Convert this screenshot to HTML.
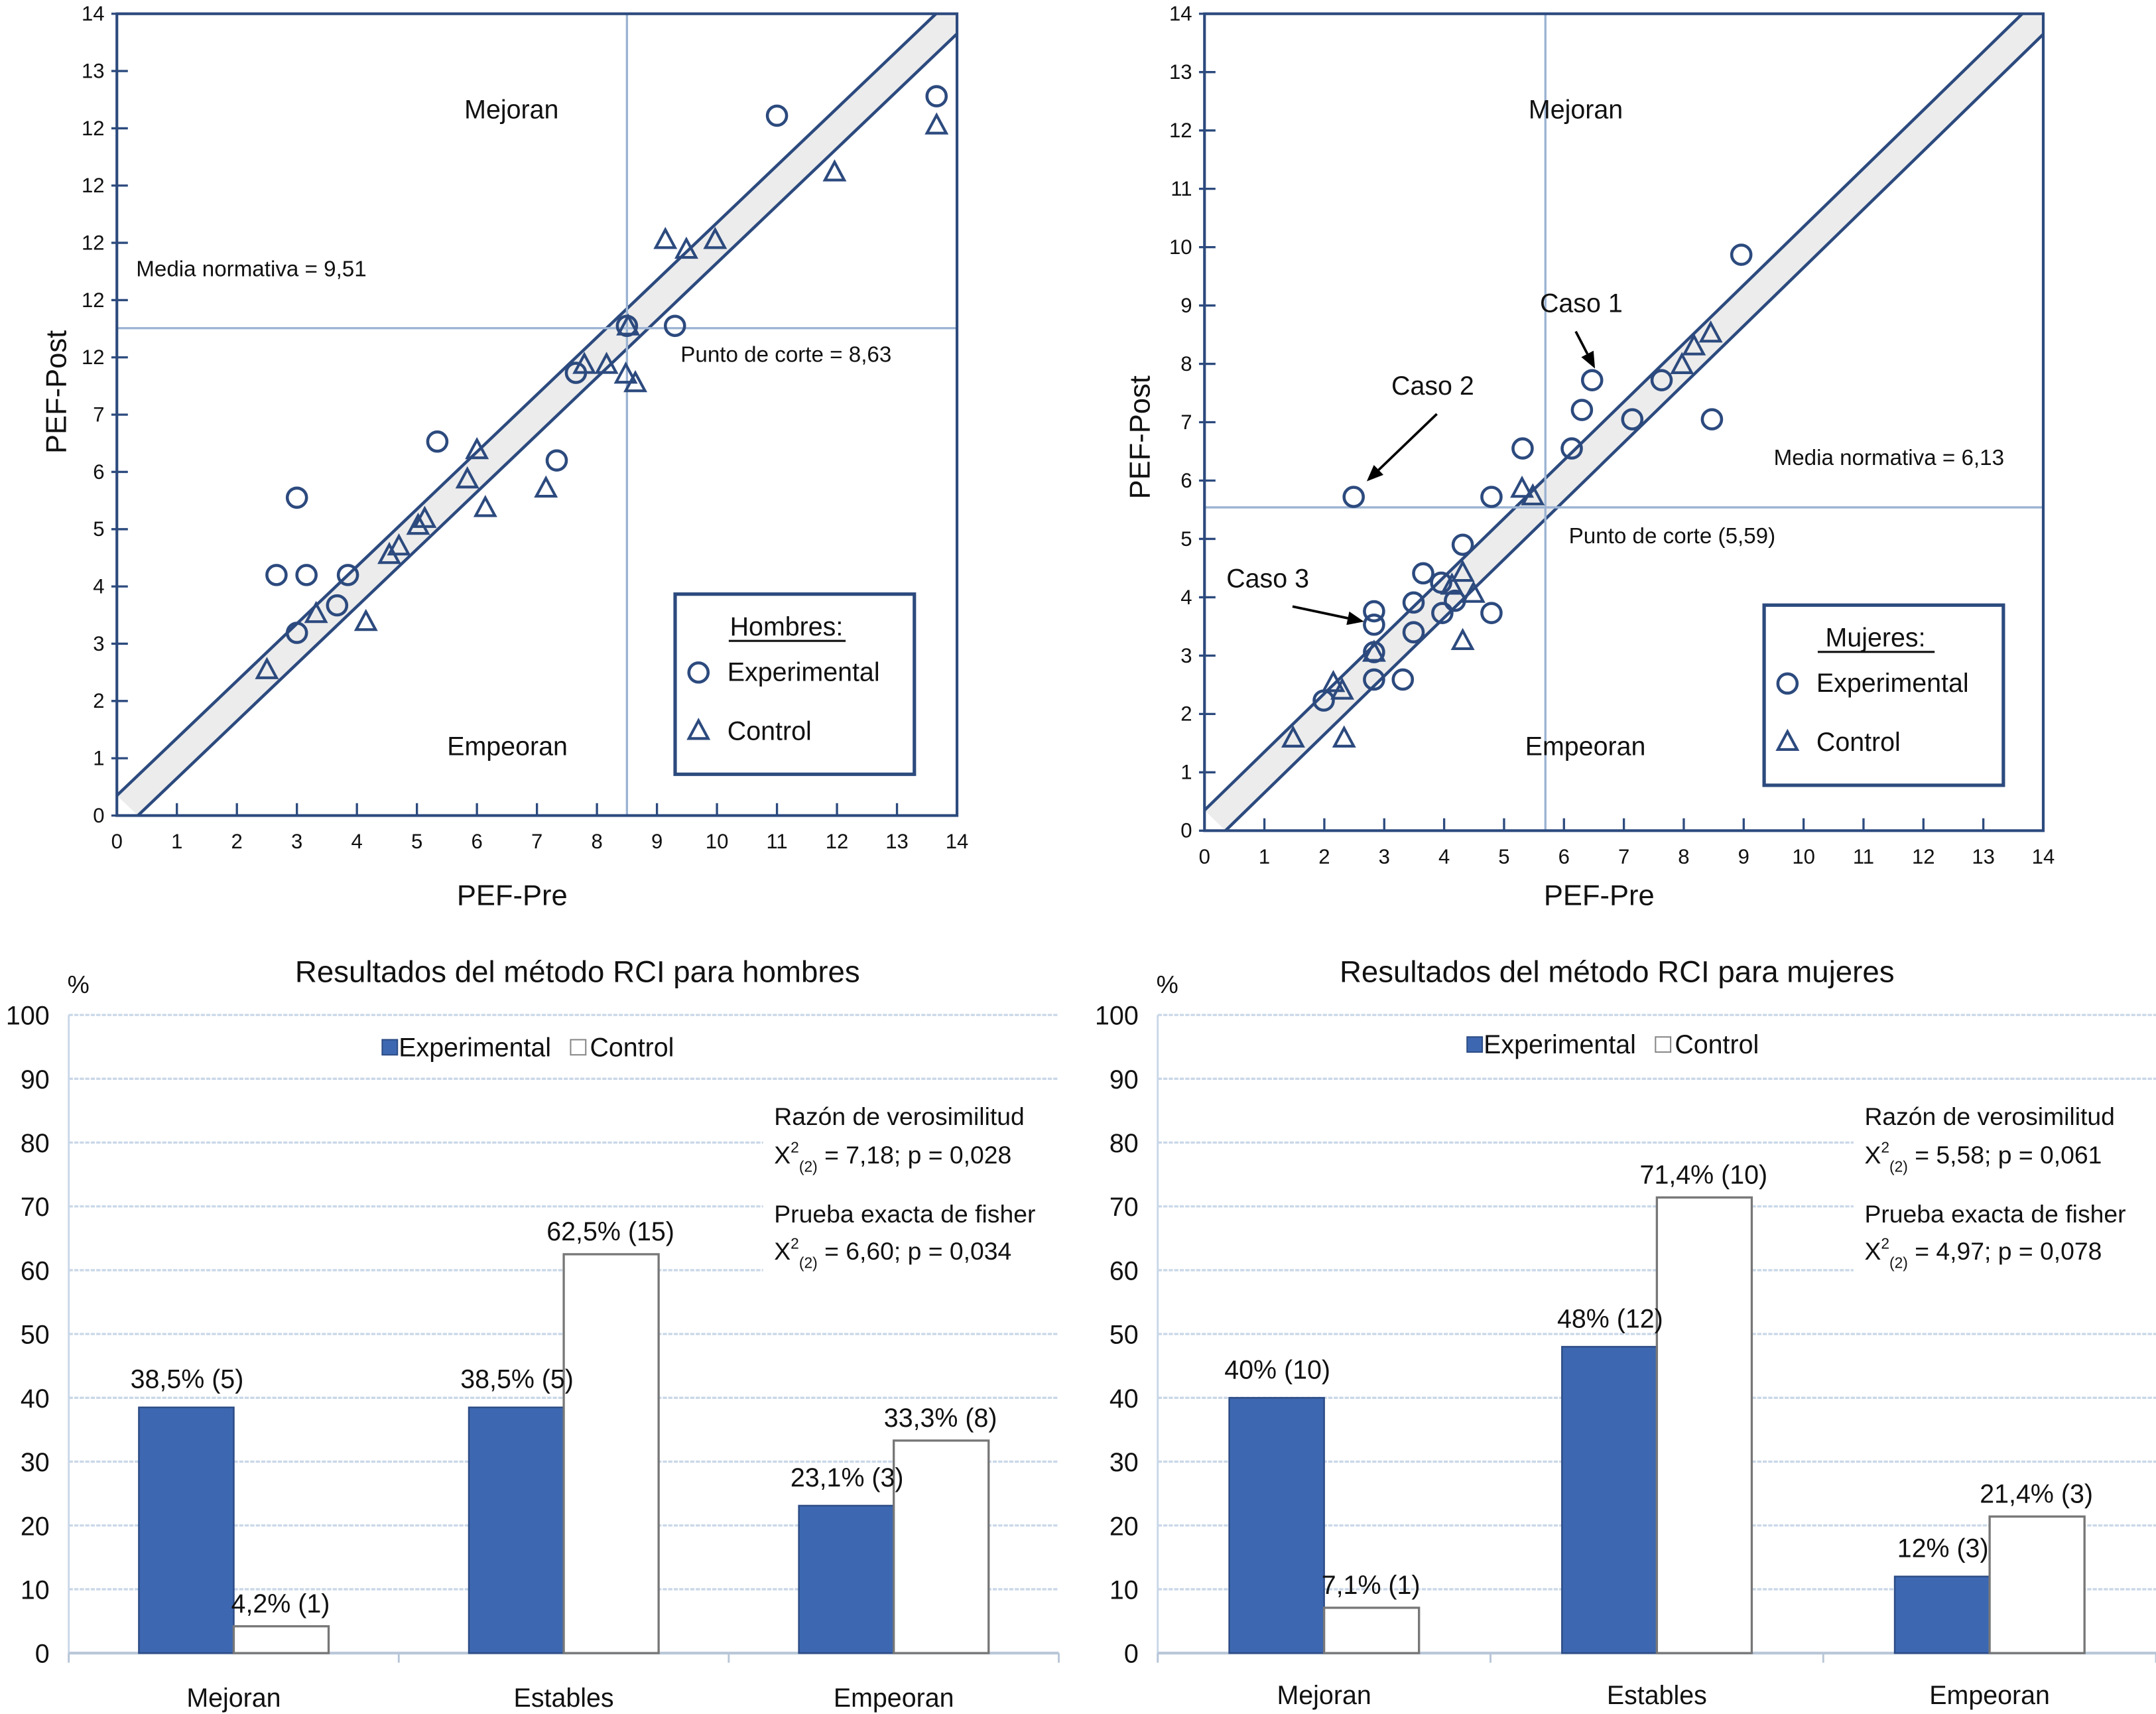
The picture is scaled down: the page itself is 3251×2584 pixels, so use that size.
<!DOCTYPE html>
<html><head><meta charset="utf-8"><style>
html,body{margin:0;padding:0;background:#fff}
svg{display:block}
text{font-family:"Liberation Sans",Arial,sans-serif;fill:#111}
</style></head><body>
<svg id="root" xmlns="http://www.w3.org/2000/svg" width="3251" height="2584" viewBox="0 0 1568 1246.3">
<rect width="1568" height="1246.3" fill="#fff"/>
</svg>
<script>
// ---------- DATA ----------
const menExpX=[2.66,3.0,3.16,3.0,3.67,3.85,5.34,7.33,7.65,8.5,9.3,11.0,13.66];
const menExpY=[4.2,5.55,4.2,3.19,3.67,4.2,6.53,6.2,7.73,8.55,8.55,12.22,12.56];
const menCtlX=[2.5,3.32,4.15,4.54,4.7,5.02,5.13,5.84,6.0,6.14,7.15,7.79,8.16,8.48,8.64,8.52,9.14,9.49,9.97,11.96,13.66];
const menCtlY=[2.55,3.53,3.39,4.56,4.71,5.07,5.19,5.88,6.39,5.38,5.72,7.88,7.88,7.71,7.56,8.55,10.06,9.89,10.06,11.24,12.06];
const womExpX=[2.49,4.79,5.31,6.13,6.3,6.47,7.14,7.63,8.47,8.96,4.31,3.65,3.49,3.97,4.18,3.95,4.79,2.83,2.83,3.49,2.83,3.31,1.99,2.83];
const womExpY=[5.72,5.72,6.55,6.55,7.21,7.72,7.05,7.72,7.05,9.87,4.9,4.41,3.91,3.73,3.94,4.25,3.73,3.76,3.53,3.4,2.59,2.59,2.23,3.06];
const womCtlX=[5.3,5.48,7.97,8.17,8.45,4.31,4.13,4.49,4.31,2.83,2.15,2.3,1.48,2.33];
const womCtlY=[5.87,5.74,7.99,8.31,8.53,4.43,4.21,4.07,3.26,3.06,2.54,2.41,1.59,1.59];
const menYTickLabels=["0","1","2","3","4","5","6","7","12","12","12","12","12","13","14"];
const womYTickLabels=["0","1","2","3","4","5","6","7","8","9","10","11","12","13","14"];
const categories=["Mejoran","Estables","Empeoran"];
const menBarExp=[38.5,38.5,23.1];
const menBarCtl=[4.2,62.5,33.3];
const menLblExp=["38,5% (5)","38,5% (5)","23,1% (3)"];
const menLblCtl=["4,2% (1)","62,5% (15)","33,3% (8)"];
const womBarExp=[40,48,12];
const womBarCtl=[7.1,71.4,21.4];
const womLblExp=["40% (10)","48% (12)","12% (3)"];
const womLblCtl=["7,1% (1)","71,4% (10)","21,4% (3)"];
const barTicks=[0,10,20,30,40,50,60,70,80,90,100];

// ---------- HELPERS ----------
const NS="http://www.w3.org/2000/svg";
const root=document.getElementById('root');
function mk(tag,attrs,parent){const e=document.createElementNS(NS,tag);for(const k in attrs)e.setAttribute(k,attrs[k]);(parent||root).appendChild(e);return e;}
function txt(x,y,s,size,anchor,parent){const e=mk('text',{x:x,y:y,'font-size':size,'text-anchor':anchor||'start'},parent);e.textContent=s;return e;}
const DK="#2c4a7e", LB="#9bb3d3";

// ---------- SCATTER ----------
function scatter(o){
  const g=mk('g',{});
  
  
  const sx=v=>o.x0+(o.x1-o.x0)*v/14, sy=v=>o.y0-(o.y0-o.y1)*v/14;
  const clip=mk('clipPath',{id:o.name+'-clip'},g);
  mk('rect',{x:o.x0,y:o.y1,width:o.x1-o.x0,height:o.y0-o.y1},clip);
  const cg=mk('g',{'clip-path':'url(#'+o.name+'-clip)'},g);
  const off=0.35;
  const band=mk('polygon',{points:[sx(0)+','+sy(off),sx(14)+','+sy(14+off),sx(14+off)+','+sy(14),sx(off)+','+sy(0)].join(' '),fill:'#ececec',stroke:'none'},cg);
  
  
  const l1=mk('line',{x1:sx(0),y1:sy(off),x2:sx(14),y2:sy(14+off),stroke:DK,'stroke-width':2.2},cg);
  
  
  const l2=mk('line',{x1:sx(off),y1:sy(0),x2:sx(14+off),y2:sy(14),stroke:DK,'stroke-width':2.2},cg);
  
  
  const vl=mk('line',{x1:sx(o.vcut),y1:o.y1,x2:sx(o.vcut),y2:o.y0,stroke:LB,'stroke-width':1.6},g);
  
  
  const hl=mk('line',{x1:o.x0,y1:sy(o.hcut),x2:o.x1,y2:sy(o.hcut),stroke:LB,'stroke-width':1.6},g);
  
  
  const fr=mk('rect',{x:o.x0,y:o.y1,width:o.x1-o.x0,height:o.y0-o.y1,fill:'none',stroke:DK,'stroke-width':2},g);
  
  
  for(let i=0;i<=14;i++){
    const t=mk('line',{x1:sx(i),y1:o.y0,x2:sx(i),y2:o.y0-9,stroke:DK,'stroke-width':1.6},g);
    
    
    const tl=txt(sx(i),o.y0+24,String(i),15,'middle',g);
    
    
    const yt=mk('line',{x1:o.x0-4,y1:sy(i),x2:o.x0+8,y2:sy(i),stroke:DK,'stroke-width':1.6},g);
    
    
    const yl=txt(o.x0-9,sy(i)+5,o.ylab[i],15,'end',g);
    
    
  }
  for(let i=0;i<o.ex.length;i++){
    const c=mk('circle',{cx:sx(o.ex[i]),cy:sy(o.ey[i]),r:7,fill:'none',stroke:DK,'stroke-width':2.2},g);
    
    
  }
  for(let i=0;i<o.cx.length;i++){
    const x=sx(o.cx[i]),y=sy(o.cy[i]);
    const p=mk('polygon',{points:(x)+','+(y-7)+' '+(x-7)+','+(y+6)+' '+(x+7)+','+(y+6),fill:'none',stroke:DK,'stroke-width':2},g);
    
    
  }
  const xt=txt((o.x0+o.x1)/2-18,658,'PEF-Pre',21,'middle',g);
  
  
  const yt=txt(0,0,'PEF-Post',21,'middle',g);
  yt.setAttribute('transform','translate('+o.ytx+','+o.yty+') rotate(-90)');
  
  
  const L=o.leg;
  const lg=mk('g',{},g);
  
  
  mk('rect',{x:L.x,y:L.y,width:174,height:131,fill:'#fff',stroke:DK,'stroke-width':2.5},lg);
  const lt=txt(L.x+81,L.y+30,o.legTitle,19,'middle',lg);
  
  
  mk('line',{x1:L.x+39,y1:L.y+34,x2:L.x+124,y2:L.y+34,stroke:'#111','stroke-width':1.5},lg);
  mk('circle',{cx:L.x+17,cy:L.y+57,r:7,fill:'none',stroke:DK,'stroke-width':2.2},lg);
  const le=txt(L.x+38,L.y+63,'Experimental',19,'start',lg);
  
  
  const tx=L.x+17,ty=L.y+99;
  mk('polygon',{points:tx+','+(ty-7)+' '+(tx-7)+','+(ty+6)+' '+(tx+7)+','+(ty+6),fill:'none',stroke:DK,'stroke-width':2},lg);
  const lc=txt(L.x+38,L.y+106,'Control',19,'start',lg);
  
  
  return g;
}
const gL=scatter({name:'scatter-hombres',x0:85,x1:696,y0:593,y1:10,vcut:8.5,hcut:8.51,ylab:menYTickLabels,ex:menExpX,ey:menExpY,cx:menCtlX,cy:menCtlY,ytx:48,yty:285,leg:{x:491,y:432},legTitle:'Hombres:'});
const gR=scatter({name:'scatter-mujeres',x0:876,x1:1486,y0:604,y1:10,vcut:5.69,hcut:5.54,ylab:womYTickLabels,ex:womExpX,ey:womExpY,cx:womCtlX,cy:womCtlY,ytx:836,yty:318,leg:{x:1283,y:440},legTitle:'Mujeres:'});
function ann(g,x,y,s,size,anchor,name){const t=txt(x,y,s,size,anchor,g);}
ann(gL,372,86,'Mejoran',19,'middle','label-mejoran');
ann(gL,99,201,'Media normativa = 9,51',16,'start','label-media-normativa');
ann(gL,495,263,'Punto de corte = 8,63',16,'start','label-punto-corte');
ann(gL,369,549,'Empeoran',19,'middle','label-empeoran');
ann(gR,1146,86,'Mejoran',19,'middle','label-mejoran');
ann(gR,1150,227,'Caso 1',19,'middle','label-caso-1');
ann(gR,1042,287,'Caso 2',19,'middle','label-caso-2');
ann(gR,922,427,'Caso 3',19,'middle','label-caso-3');
ann(gR,1290,338,'Media normativa = 6,13',16,'start','label-media-normativa');
ann(gR,1141,395,'Punto de corte (5,59)',16,'start','label-punto-corte');
ann(gR,1153,549,'Empeoran',19,'middle','label-empeoran');
function arrow(g,x1,y1,x2,y2,name){
  const a=mk('g',{},g);
  
  
  const ang=Math.atan2(y2-y1,x2-x1);
  const bx=x2-12*Math.cos(ang),by=y2-12*Math.sin(ang);
  mk('line',{x1:x1,y1:y1,x2:bx,y2:by,stroke:'#000','stroke-width':1.8},a);
  const px=-Math.sin(ang)*5,py=Math.cos(ang)*5;
  mk('polygon',{points:x2+','+y2+' '+(bx+px)+','+(by+py)+' '+(bx-px)+','+(by-py),fill:'#000'},a);
}
arrow(gR,1146,241,1160,268,'arrow-caso-1');
arrow(gR,1045,301,994,350,'arrow-caso-2');
arrow(gR,940,441,992,452,'arrow-caso-3');

// ---------- BAR CHARTS ----------
function bars(o){
  const g=mk('g',{});
  
  
  const sy=v=>1202-v*4.64;
  for(let i=0;i<barTicks.length;i++){
    const v=barTicks[i];
    const gl=mk('line',{x1:o.gx0,y1:sy(v),x2:o.gx1,y2:sy(v),stroke:'#c9d7e8','stroke-width':1.6,'stroke-dasharray':v===0?'':'3 1'},g);
    
    
    const tl=txt(o.gx0-14,sy(v)+7,String(v),19,'end',g);
    
    
  }
  mk('line',{x1:o.gx0,y1:738,x2:o.gx0,y2:1208,stroke:'#c9d7e8','stroke-width':1.4},g);
  mk('line',{x1:o.gx0,y1:sy(0),x2:o.gx1,y2:sy(0),stroke:'#b8c6d8','stroke-width':2},g);
  for(let k=0;k<=3;k++){mk('line',{x1:o.gx0+k*(o.gx1-o.gx0)/3,y1:1202,x2:o.gx0+k*(o.gx1-o.gx0)/3,y2:1209,stroke:'#b8c6d8','stroke-width':1.4},g);}
  mk('rect',{x:o.sx-8,y:795,width:o.gx1-o.sx+8,height:130,fill:'#fff'},g);
  const pc=txt(o.gx0+7,722,'%',18,'middle',g);
  
  
  const ti=txt(o.tx,714,o.title,22,'middle',g);
  
  
  const bw=(o.gx1-o.gx0)/3;
  for(let i=0;i<categories.length;i++){
    const cx=o.gx0+bw*(i+0.5)+o.cshift;
    const b1=mk('rect',{x:cx-69,y:sy(o.exp[i]),width:69,height:o.exp[i]*4.64,fill:'#3d68b1',stroke:'#2d4c86','stroke-width':1.2},g);
    
    
    const b2=mk('rect',{x:cx,y:sy(o.ctl[i]),width:69,height:o.ctl[i]*4.64,fill:'#fff',stroke:'#777','stroke-width':1.6},g);
    
    
    const v1=txt(cx-34,sy(o.exp[i])-14,o.lexp[i],19,'middle',g);
    
    
    const v2=txt(cx+34,sy(o.ctl[i])-10,o.lctl[i],19,'middle',g);
    
    
    const cl=txt(cx,o.cly,categories[i],19,'middle',g);
    
    
  }
  const lg=mk('g',{},g);
  
  
  mk('rect',{x:o.lx,y:o.ly-6,width:11,height:11,fill:'#3d68b1',stroke:'#2d4c86'},lg);
  const e1=txt(o.lx+12,o.ly+6,'Experimental',19,'start',lg);
  
  
  mk('rect',{x:o.lx+137,y:o.ly-6,width:11,height:11,fill:'#fff',stroke:'#888'},lg);
  const e2=txt(o.lx+151,o.ly+6,'Control',19,'start',lg);
  
  
  const st=mk('g',{},g);
  
  
  txt(o.sx,818,'Razón de verosimilitud',18,'start',st);
  const s2=txt(o.sx,846,'',18,'start',st);
  s2.innerHTML='X<tspan dy="-8" font-size="11">2</tspan><tspan dy="14" font-size="11">(2)</tspan><tspan dy="-6"> = '+o.s1+'</tspan>';
  txt(o.sx,889,'Prueba exacta de fisher',18,'start',st);
  const s4=txt(o.sx,916,'',18,'start',st);
  s4.innerHTML='X<tspan dy="-8" font-size="11">2</tspan><tspan dy="14" font-size="11">(2)</tspan><tspan dy="-6"> = '+o.s2+'</tspan>';
}
bars({name:'bar-chart-hombres',gx0:50,gx1:770,tx:420,title:'Resultados del método RCI para hombres',exp:menBarExp,ctl:menBarCtl,lexp:menLblExp,lctl:menLblCtl,cshift:0,cly:1241,lx:278,ly:762,sx:563,s1:'7,18; p = 0,028',s2:'6,60; p = 0,034'});
bars({name:'bar-chart-mujeres',gx0:842,gx1:1568,tx:1176,title:'Resultados del método RCI para mujeres',exp:womBarExp,ctl:womBarCtl,lexp:womLblExp,lctl:womLblCtl,cshift:0,cly:1239,lx:1067,ly:760,sx:1356,s1:'5,58; p = 0,061',s2:'4,97; p = 0,078'});
</script>
</body></html>
